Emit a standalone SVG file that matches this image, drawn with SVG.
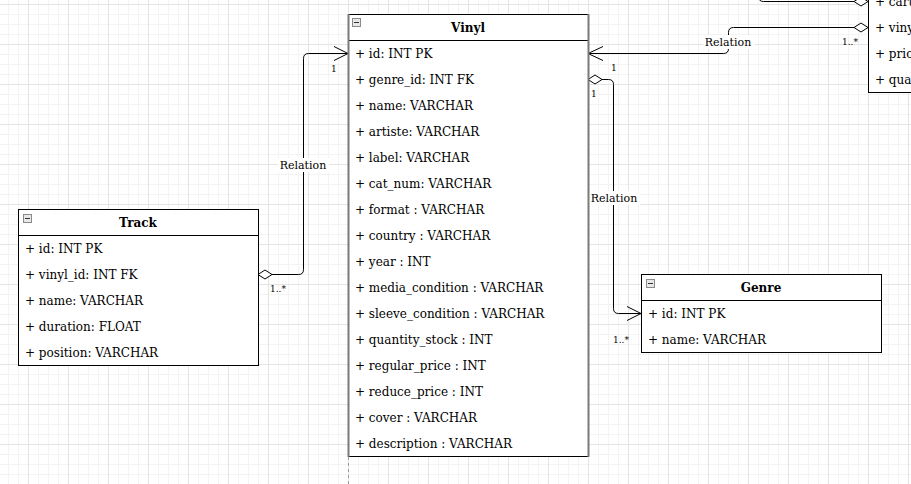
<svg xmlns="http://www.w3.org/2000/svg" width="911" height="484" viewBox="0 0 911 484">
<defs>
<pattern id="grid" patternUnits="userSpaceOnUse" x="28" y="4" width="40" height="40">
<rect x="10" y="0" width="1" height="40" fill="#f3f3f3"/>
<rect x="20" y="0" width="1" height="40" fill="#f3f3f3"/>
<rect x="30" y="0" width="1" height="40" fill="#f3f3f3"/>
<rect x="0" y="10" width="40" height="1" fill="#f3f3f3"/>
<rect x="0" y="20" width="40" height="1" fill="#f3f3f3"/>
<rect x="0" y="30" width="40" height="1" fill="#f3f3f3"/>
<rect x="0" y="0" width="1" height="40" fill="#e4e4e4"/>
<rect x="0" y="0" width="40" height="1" fill="#e4e4e4"/>
</pattern>
<g id="collapse">
<rect x="0.5" y="0.5" width="8" height="8" fill="#e8e8e8" stroke="#8a8a8a" stroke-width="1"/>
<line x1="2" y1="4.5" x2="7" y2="4.5" stroke="#333" stroke-width="1"/>
</g>
<clipPath id="rightclip"><rect x="0" y="0" width="911" height="484"/></clipPath>
</defs>
<style>
.box{fill:#fff;stroke:#000;stroke-width:1}
.sep{stroke:#000;stroke-width:1}
.row{font-family:"DejaVu Serif",serif;font-size:12px;fill:#000}
.title{font-family:"DejaVu Serif",serif;font-size:12px;font-weight:bold;fill:#000;text-anchor:middle}
.lbl{font-family:"DejaVu Serif",serif;font-size:11px;fill:#000;text-anchor:middle}
.mul{font-family:"DejaVu Serif",serif;font-size:9px;fill:#000}
.edge{fill:none;stroke:#000;stroke-width:1}
.dia{fill:#fff;stroke:#000;stroke-width:1}
.lblbg{fill:#fff}
</style>
<rect x="0" y="0" width="911" height="484" fill="#fff"/>
<rect x="0" y="0" width="911" height="484" fill="url(#grid)"/>

<g id="connectors">
<g id="track-vinyl">
<path class="edge" d="M272,274.5 H298.5 Q303.5,274.5 303.5,269.5 V58.5 Q303.5,53.5 308.5,53.5 H348"/>
<polygon class="dia" points="258,274.5 265,270 272,274.5 265,279"/>
<path class="edge" d="M334,46.5 L348,53.5 L334,60.5"/>
<rect class="lblbg" x="278" y="158" width="51" height="14"/>
<text class="lbl" x="303" y="169">Relation</text>
<text class="mul" x="270" y="292">1..*</text>
<text class="mul" x="331" y="72">1</text>
</g>
<g id="cart-vinyl">
<path class="edge" d="M854,27.5 H733.5 Q728.5,27.5 728.5,32.5 V48.5 Q728.5,53.5 723.5,53.5 H588"/>
<polygon class="dia" points="868,27.5 861,23 854,27.5 861,32"/>
<path class="edge" d="M603,46.5 L588,53.5 L603,60.5"/>
<rect class="lblbg" x="703" y="35" width="51" height="14"/>
<text class="lbl" x="728" y="46">Relation</text>
<text class="mul" x="842" y="45">1..*</text>
<text class="mul" x="611" y="71">1</text>
</g>
<g id="vinyl-genre">
<polygon class="dia" points="588,79.5 595,75 602,79.5 595,84"/>
<path class="edge" d="M602,79.5 H608.5 Q613.5,79.5 613.5,84.5 V308.5 Q613.5,313.5 618.5,313.5 H641"/>
<path class="edge" d="M627,306.5 L641,313.5 L627,320.5"/>
<rect class="lblbg" x="589" y="191" width="51" height="14"/>
<text class="lbl" x="614" y="202">Relation</text>
<text class="mul" x="591" y="97">1</text>
<text class="mul" x="613" y="343">1..*</text>
</g>
<g id="cart-top">
<path class="edge" d="M854,1.5 H763.5 Q758.5,1.5 758.5,-3.5 V-20"/>
<polygon class="dia" points="868,1.5 861,-3 854,1.5 861,6"/>
</g>
</g>

<g id="vinyl">
<rect class="box" x="348.5" y="14.5" width="240" height="442"/>
<line class="sep" x1="348" y1="40.5" x2="589" y2="40.5"/>
<use href="#collapse" x="352" y="18"/>
<text class="title" x="468" y="32">Vinyl</text>
<text class="row" x="355" y="58">+ id: INT PK</text>
<text class="row" x="355" y="84">+ genre_id: INT FK</text>
<text class="row" x="355" y="110">+ name: VARCHAR</text>
<text class="row" x="355" y="136">+ artiste: VARCHAR</text>
<text class="row" x="355" y="162">+ label: VARCHAR</text>
<text class="row" x="355" y="188">+ cat_num: VARCHAR</text>
<text class="row" x="355" y="214">+ format : VARCHAR</text>
<text class="row" x="355" y="240">+ country : VARCHAR</text>
<text class="row" x="355" y="266">+ year : INT</text>
<text class="row" x="355" y="292">+ media_condition : VARCHAR</text>
<text class="row" x="355" y="318">+ sleeve_condition : VARCHAR</text>
<text class="row" x="355" y="344">+ quantity_stock : INT</text>
<text class="row" x="355" y="370">+ regular_price : INT</text>
<text class="row" x="355" y="396">+ reduce_price : INT</text>
<text class="row" x="355" y="422">+ cover : VARCHAR</text>
<text class="row" x="355" y="448">+ description : VARCHAR</text>
<line x1="348.5" y1="14" x2="348.5" y2="457" stroke="#7a7a7a" stroke-width="2"/>
<line x1="588.5" y1="14" x2="588.5" y2="457" stroke="#7a7a7a" stroke-width="2"/>
<line x1="348.5" y1="457" x2="348.5" y2="484" stroke="#9a9a9a" stroke-width="1" stroke-dasharray="3,3"/>
</g>

<g id="track">
<rect class="box" x="18.5" y="209.5" width="240" height="156"/>
<line class="sep" x1="18" y1="235.5" x2="259" y2="235.5"/>
<use href="#collapse" x="23" y="214"/>
<text class="title" x="138" y="227">Track</text>
<text class="row" x="25" y="253">+ id: INT PK</text>
<text class="row" x="25" y="279">+ vinyl_id: INT FK</text>
<text class="row" x="25" y="305">+ name: VARCHAR</text>
<text class="row" x="25" y="331">+ duration: FLOAT</text>
<text class="row" x="25" y="357">+ position: VARCHAR</text>
</g>

<g id="genre">
<rect class="box" x="641.5" y="274.5" width="240" height="78"/>
<line class="sep" x1="641" y1="300.5" x2="882" y2="300.5"/>
<use href="#collapse" x="646" y="279"/>
<text class="title" x="761" y="292">Genre</text>
<text class="row" x="648" y="318">+ id: INT PK</text>
<text class="row" x="648" y="344">+ name: VARCHAR</text>
</g>

<g id="cart-item" clip-path="url(#rightclip)">
<rect class="box" x="868.5" y="-30" width="60" height="122.5"/>
<text class="row" x="875" y="6">+ cart</text>
<text class="row" x="875" y="32">+ viny</text>
<text class="row" x="875" y="58">+ pric</text>
<text class="row" x="875" y="84">+ qua</text>
</g>
</svg>
